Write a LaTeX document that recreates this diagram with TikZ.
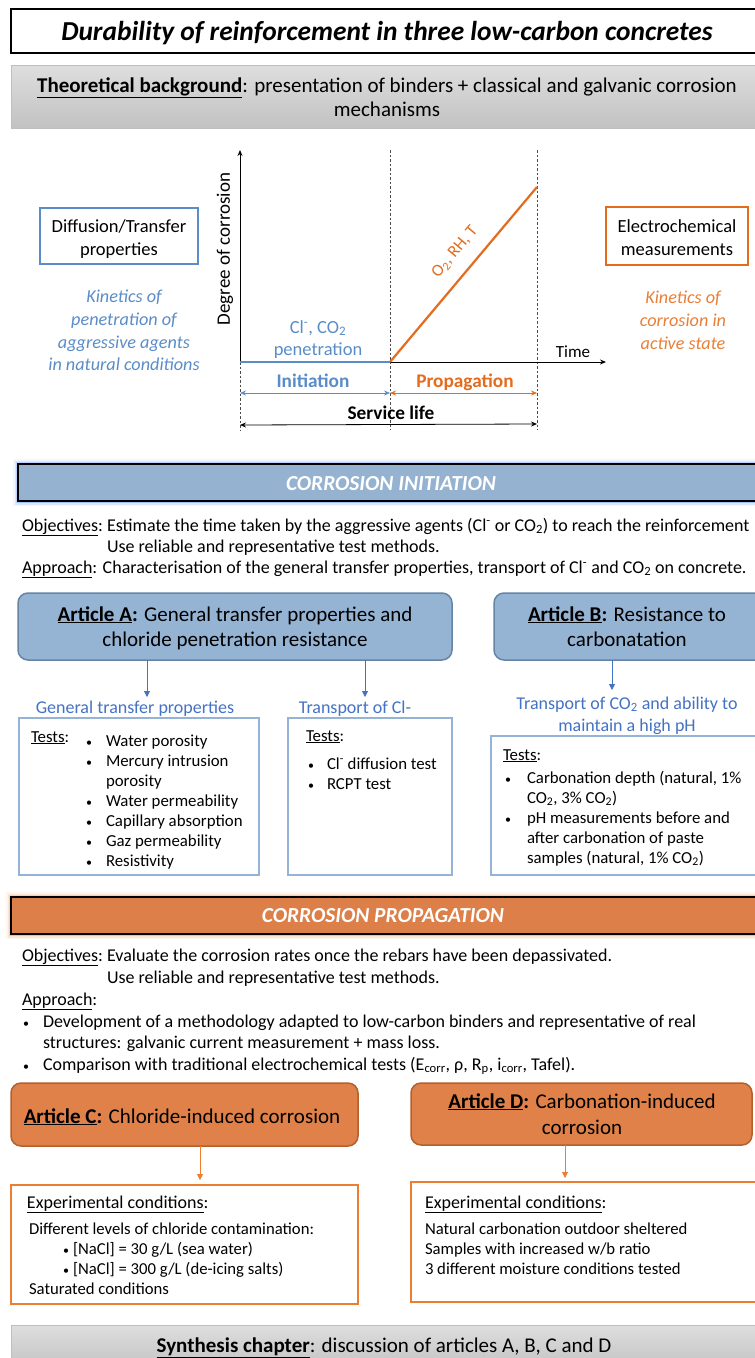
\documentclass[tikz,border=0pt]{standalone}
\usepackage{fontspec}
\setmainfont{Carlito}
\usetikzlibrary{arrows.meta}
\definecolor{chartblue}{HTML}{5A8DC8}
\definecolor{chartorange}{HTML}{E46C1E}
\definecolor{lightorange}{HTML}{E8803A}
\definecolor{initfill}{HTML}{95B3D0}
\definecolor{glowblue}{HTML}{7FA7FF}
\definecolor{artAfill}{HTML}{95B3D3}
\definecolor{artAborder}{HTML}{6685A5}
\definecolor{arrowblue}{HTML}{4472C4}
\definecolor{testborder}{HTML}{95B3D7}
\definecolor{propfill}{HTML}{DC7F48}
\definecolor{gloworange}{HTML}{F7A56A}
\definecolor{artCfill}{HTML}{DF8148}
\definecolor{artCborder}{HTML}{B0612E}
\definecolor{orangeline}{HTML}{ED7D31}
\definecolor{greytop}{HTML}{DEDEDE}
\definecolor{greybot}{HTML}{C2C2C2}
\definecolor{greyborder}{HTML}{BFBFBF}
\newcommand{\myfs}[1]{\fontsize{#1}{#1}\selectfont}
\newcommand{\smallbul}{{\fontsize{12}{12}\selectfont\textbullet}}
\begin{document}
\begin{tikzpicture}[x=1pt,y=-1pt,
  every node/.style={inner sep=0pt, outer sep=0pt},
  lt/.style={anchor=base west},
  ct/.style={anchor=base},
  body/.style={font=\myfs{18}},
  small/.style={font=\myfs{16.8}},
  cond/.style={font=\myfs{16.7}},
  chart/.style={font=\myfs{18.5}},
  chartit/.style={font=\myfs{18.2}\itshape},
  chartbf/.style={font=\myfs{19.3}\bfseries},
  art/.style={font=\myfs{21}},
  boxnw/.style={anchor=north west},
  dashline/.style={draw=black!70, line width=0.7, dash pattern=on 2.5pt off 2pt},
  bluearrow/.style={draw=arrowblue, line width=0.8, -{Triangle[length=6pt,width=6pt]}},
  orangearrow/.style={draw=orangeline, line width=0.8, -{Triangle[length=6pt,width=6pt]}},
  chartarrow/.style={line width=0.8, {Stealth[length=6pt,width=5pt]}-{Stealth[length=6pt,width=5pt]}},
  testbox/.style={boxnw, draw=testborder, line width=1.6},
  condbox/.style={boxnw, draw=orangeline, line width=1.6},
  artA/.style={boxnw, draw=artAborder, fill=artAfill, line width=1.5, rounded corners=10pt},
  artC/.style={boxnw, draw=artCborder, fill=artCfill, line width=1.5, rounded corners=10pt},
  greybox/.style={boxnw, top color=greytop, bottom color=greybot, draw=greyborder, line width=0.8}
]
\clip (0,0) rectangle (755,1358);
\fill[white] (0,0) rectangle (755,1358);

% ---------------- Title ----------------
\node[boxnw, draw=black, line width=1.2, fill=white, minimum width=760, minimum height=44] (titlebox) at (11,9) {};
\node[ct, font=\myfs{27.4}\bfseries\itshape] (title) at (387,40) {Durability of reinforcement in three low-carbon concretes};

\node[greybox, minimum width=760, minimum height=63] (theo) at (11,65) {};
\node[ct, font=\myfs{21}] (theo1) at (387,92) {\textbf{\underline{Theoretical background}}: presentation of binders + classical and galvanic corrosion};
\node[ct, font=\myfs{21}] (theo2) at (387,116) {mechanisms};

% ---------------- Chart ----------------
\coordinate (O) at (240,362);
\coordinate (ytop) at (240,150);
\coordinate (xend) at (606,362);
\coordinate (ti) at (390,362);
\coordinate (pe) at (537,187);
\coordinate (d1t) at (390,150);
\coordinate (d1b) at (390,430);
\coordinate (d2t) at (537,150);
\coordinate (d2b) at (537,430);
\coordinate (d0b) at (240,430);
\coordinate (i1) at (240,393);
\coordinate (i2) at (390,393);
\coordinate (p2) at (537,393);
\coordinate (s1) at (240,425);
\coordinate (s2) at (537,424);

\draw[dashline] (d1t) -- (d1b);
\draw[dashline] (d2t) -- (d2b);
\draw[dashline] (O) -- (d0b);
\draw[line width=0.8, -{Stealth[length=6pt,width=5pt]}] (O) -- (ytop);
\draw[line width=0.8, -{Stealth[length=6pt,width=5pt]}] (O) -- (xend);
\draw[chartblue, line width=2] (O) -- (ti);
\draw[chartorange, line width=2.2] (ti) -- (pe);
\draw[chartarrow, chartblue] (i1) -- (i2);
\draw[chartarrow, chartorange] (i2) -- (p2);
\draw[chartarrow, black] (s1) -- (s2);

\node[rotate=90, font=\myfs{19}] (degree) at (225,249) {Degree of corrosion};
\node[rotate=50, font=\myfs{17}, text=chartorange] (o2lab) at (455,252) {O\textsubscript{2}, RH, T};
\node[ct, chart, text=chartblue] (clco) at (318,333) {Cl\textsuperscript{-}, CO\textsubscript{2}};
\node[ct, chart, text=chartblue] (pen) at (318,355) {penetration};
\node[ct, font=\myfs{17}] (time) at (573,357) {Time};
\node[ct, chartbf, text=chartblue] (initl) at (313,387) {Initiation};
\node[ct, chartbf, text=chartorange] (propl) at (465,387) {Propagation};
\node[ct, chartbf] (servl) at (391,419) {Service life};

\node[boxnw, draw=chartblue, line width=1.8, minimum width=158, minimum height=56] (diffbox) at (40,208) {};
\node[ct, chart] (diff1) at (119,232) {Diffusion/Transfer};
\node[ct, chart] (diff2) at (119,255) {properties};
\node[ct, chartit, text=chartblue] (kin1) at (124,302) {Kinetics of};
\node[ct, chartit, text=chartblue] (kin2) at (124,325) {penetration of};
\node[ct, chartit, text=chartblue] (kin3) at (124,348) {aggressive agents};
\node[ct, chartit, text=chartblue] (kin4) at (124,370) {in natural conditions};

\node[boxnw, draw=chartorange, line width=1.8, minimum width=142, minimum height=58] (elecbox) at (606,207) {};
\node[ct, chart] (elec1) at (677,232) {Electrochemical};
\node[ct, chart] (elec2) at (677,255) {measurements};
\node[ct, chartit, text=lightorange] (kc1) at (683,303) {Kinetics of};
\node[ct, chartit, text=lightorange] (kc2) at (683,326) {corrosion in};
\node[ct, chartit, text=lightorange] (kc3) at (683,349) {active state};

% ---------------- Corrosion initiation ----------------
\foreach \w/\o in {10/0.1, 7/0.18, 4.5/0.3, 3/0.45}
  \draw[glowblue, line width=\w, opacity=\o] (18,464) rectangle (770,501);
\node[boxnw, draw=black, fill=initfill, line width=1.6, minimum width=752, minimum height=37] (initbar) at (18,464) {};
\node[ct, font=\myfs{21.4}\bfseries\itshape, text=white] (inittxt) at (391,490) {CORROSION INITIATION};

\node[lt, body] (obj1lab) at (22,531) {\underline{Objectives}:};
\node[lt, body] (obj1a) at ([xshift=4]obj1lab.base east) {Estimate the time taken by the aggressive agents (Cl\textsuperscript{-} or CO\textsubscript{2}) to reach the reinforcement};
\node[lt, body] (obj1b) at ([yshift=-21]obj1a.base west) {Use reliable and representative test methods.};
\node[lt, body] (app1) at (22,573) {\underline{Approach}: Characterisation of the general transfer properties, transport of Cl\textsuperscript{-} and CO\textsubscript{2} on concrete.};

\node[artA, minimum width=434, minimum height=67] (artA) at (18,593) {};
\node[ct, art] (artA1) at (235,621) {\textbf{\underline{Article A}:} General transfer properties and};
\node[ct, art] (artA2) at (235,646) {chloride penetration resistance};
\node[artA, minimum width=280, minimum height=67] (artB) at (494,593) {};
\node[ct, art] (artB1) at (627,621) {\textbf{\underline{Article B}:} Resistance to};
\node[ct, art] (artB2) at (627,646) {carbonatation};

\coordinate (a1) at (147,697);
\coordinate (a2) at (365,697);
\coordinate (b1) at (612,690);
\draw[bluearrow] (artA.south -| a1) -- (a1);
\draw[bluearrow] (artA.south -| a2) -- (a2);
\draw[bluearrow] (artB.south -| b1) -- (b1);

\node[ct, body, text=arrowblue] (gtp) at (135,713) {General transfer properties};
\node[ct, body, text=arrowblue] (tcl) at (355,713) {Transport of Cl-};
\node[ct, body, text=arrowblue] (tco1) at (627,709) {Transport of CO\textsubscript{2} and ability to};
\node[ct, body, text=arrowblue] (tco2) at (627,731) {maintain a high pH};

\node[testbox, minimum width=240, minimum height=157] (tb1) at (19,718) {};
\node[lt, small] (tb1t) at (31,742) {\underline{Tests}:};
\foreach \y/\t [count=\i] in {746/Water porosity, 766/Mercury intrusion, 806/Water permeability, 826/Capillary absorption, 846/Gaz permeability, 866/Resistivity}{
  \node[ct, small] (tb1b\i) at (89,\y) {\smallbul};
  \node[lt, small] (tb1i\i) at (106,\y) {\t};
}
\node[lt, small] (tb1c) at (106,786) {porosity};

\node[testbox, minimum width=164, minimum height=157] (tb2) at (288,718) {};
\node[lt, small] (tb2t) at (306,741) {\underline{Tests}:};
\node[ct, small] (tb2b1) at (311,769) {\smallbul};
\node[lt, small] (tb2i1) at (327,769) {Cl\textsuperscript{-} diffusion test};
\node[ct, small] (tb2b2) at (311,789) {\smallbul};
\node[lt, small] (tb2i2) at (327,789) {RCPT test};

\node[testbox, minimum width=280, minimum height=139] (tb3) at (491,736) {};
\node[lt, small] (tb3t) at (503,760) {\underline{Tests}:};
\node[ct, small] (tb3b1) at (508,783) {\smallbul};
\node[lt, small] (tb3i1) at (527,783) {Carbonation depth (natural, 1\%};
\node[lt, small] (tb3i1b) at (527,803) {CO\textsubscript{2}, 3\% CO\textsubscript{2})};
\node[ct, small] (tb3b2) at (508,823) {\smallbul};
\node[lt, small] (tb3i2) at (527,823) {pH measurements before and};
\node[lt, small] (tb3i2b) at (527,843) {after carbonation of paste};
\node[lt, small] (tb3i2c) at (527,863) {samples (natural, 1\% CO\textsubscript{2})};

% ---------------- Corrosion propagation ----------------
\foreach \w/\o in {10/0.1, 7/0.18, 4.5/0.3, 3/0.45}
  \draw[gloworange, line width=\w, opacity=\o] (11,897) rectangle (770,934);
\node[boxnw, draw=black, fill=propfill, line width=1.6, minimum width=759, minimum height=37] (propbar) at (11,897) {};
\node[ct, font=\myfs{21.4}\bfseries\itshape, text=white] (proptxt) at (383,922) {CORROSION PROPAGATION};

\node[lt, body] (obj2lab) at (22,961) {\underline{Objectives}:};
\node[lt, body] (obj2a) at ([xshift=4]obj2lab.base east) {Evaluate the corrosion rates once the rebars have been depassivated.};
\node[lt, body] (obj2b) at ([yshift=-22]obj2a.base west) {Use reliable and representative test methods.};
\node[lt, body] (app2) at (22,1005) {\underline{Approach}:};
\node[ct, body] (app2b1) at (26,1027) {\smallbul};
\node[lt, body] (app2i1) at (43,1027) {Development of a methodology adapted to low-carbon binders and representative of real};
\node[lt, body] (app2i1b) at (43,1048) {structures: galvanic current measurement + mass loss.};
\node[ct, body] (app2b2) at (26,1070) {\smallbul};
\node[lt, body] (app2i2) at (43,1070) {Comparison with traditional electrochemical tests (E\textsubscript{corr}, ρ, R\textsubscript{p}, i\textsubscript{corr}, Tafel).};

\node[artC, minimum width=347, minimum height=63] (artC) at (11,1083) {};
\node[ct, art] (artC1) at (182,1123) {\textbf{\underline{Article C}:} Chloride-induced corrosion};
\node[artC, minimum width=341, minimum height=62] (artD) at (411,1083) {};
\node[ct, art] (artD1) at (582,1108) {\textbf{\underline{Article D}:} Carbonation-induced};
\node[ct, art] (artD2) at (582,1134) {corrosion};

\coordinate (c1) at (200,1180);
\coordinate (dd1) at (565,1178);
\draw[orangearrow] (artC.south -| c1) -- (c1);
\draw[orangearrow] (artD.south -| dd1) -- (dd1);

\node[condbox, minimum width=347, minimum height=119] (cbC) at (11,1185) {};
\node[lt, body] (cbC1) at (27,1208) {\underline{Experimental conditions}:};
\node[lt, cond] (cbC2) at (29,1234) {Different levels of chloride contamination:};
\node[ct, cond] (cbCb1) at (66,1254) {\smallbul};
\node[lt, cond] (cbC3) at (73,1254) {[NaCl] = 30 g/L (sea water)};
\node[ct, cond] (cbCb2) at (66,1274) {\smallbul};
\node[lt, cond] (cbC4) at (73,1274) {[NaCl] = 300 g/L (de-icing salts)};
\node[lt, cond] (cbC5) at (29,1294) {Saturated conditions};

\node[condbox, minimum width=360, minimum height=120] (cbD) at (411,1182) {};
\node[lt, body] (cbD1) at (425,1208) {\underline{Experimental conditions}:};
\node[lt, cond] (cbD2) at (425,1234) {Natural carbonation outdoor sheltered};
\node[lt, cond] (cbD3) at (425,1254) {Samples with increased w/b ratio};
\node[lt, cond] (cbD4) at (425,1274) {3 different moisture conditions tested};

% ---------------- Synthesis ----------------
\node[greybox, minimum width=760, minimum height=45] (synth) at (11,1325) {};
\node[ct, font=\myfs{21}] (synthtxt) at (384,1352) {\textbf{\underline{Synthesis chapter}}: discussion of articles A, B, C and D};
\end{tikzpicture}
\end{document}
